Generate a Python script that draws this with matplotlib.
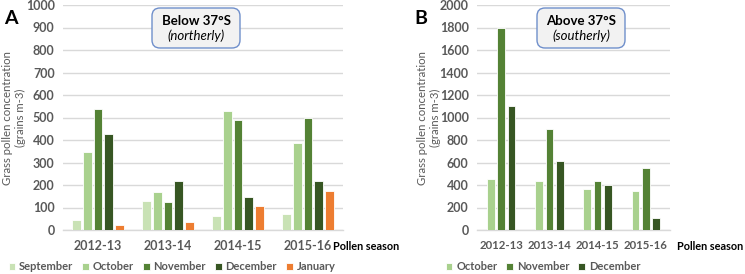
import matplotlib.pyplot as plt
import numpy as np
from matplotlib.patches import FancyBboxPatch
from matplotlib.transforms import IdentityTransform

plt.rcParams['font.family'] = ['Lato', 'DejaVu Sans']

seasons = ['2012-13', '2013-14', '2014-15', '2015-16']

# panel A: below 37°S
months_a = ['September', 'October', 'November', 'December', 'January']
north = {
    'September': [45, 130, 62, 72],
    'October': [345, 167, 530, 385],
    'November': [537, 125, 490, 498],
    'December': [425, 218, 147, 220],
    'January': [22, 35, 105, 175],
}

# panel B: above 37°S
months_b = ['October', 'November', 'December']
south = {
    'October': [450, 440, 362, 348],
    'November': [1800, 895, 432, 555],
    'December': [1100, 615, 398, 110],
}

colors = {
    'September': '#C9E2B5',
    'October': '#A9D18E',
    'November': '#548235',
    'December': '#375623',
    'January': '#ED7D31',
}

grey = '#595959'

fig = plt.figure(figsize=(7.45, 2.74), dpi=100)
W, H = 745, 274


def px_axes(x0, y0, x1, y1):
    return fig.add_axes([x0 / W, 1 - y1 / H, (x1 - x0) / W, (y1 - y0) / H])


def draw_panel(ax, months, data, step, width, ymax, ystep, xsize):
    x = np.arange(len(seasons))
    n = len(months)
    for i, m in enumerate(months):
        off = (i - (n - 1) / 2) * step
        ax.bar(x + off, data[m], width, color=colors[m], edgecolor='white',
               linewidth=0.6, label=m, zorder=3)
    ax.set_xlim(-0.5, len(seasons) - 0.5)
    ax.set_ylim(0, ymax)
    ax.set_yticks(np.arange(0, ymax + 1, ystep))
    ax.yaxis.grid(True, color='#D9D9D9', linewidth=1, zorder=0)
    for s in ['top', 'right', 'left']:
        ax.spines[s].set_visible(False)
    ax.spines['bottom'].set_color('#D9D9D9')
    ax.spines['bottom'].set_linewidth(1)
    ax.tick_params(length=0, colors=grey, labelsize=9)
    ax.set_xticks(x)
    ax.set_xticklabels(seasons, fontweight='bold', fontsize=xsize)
    for lab in ax.get_yticklabels():
        lab.set_fontweight('bold')
    ax.tick_params(axis='x', pad=7)
    ax.tick_params(axis='y', pad=6)


ax1 = px_axes(63, 5, 343, 230)
draw_panel(ax1, months_a, north, 0.153, 0.124, 1000, 100, 9)

ax2 = px_axes(477, 5, 670, 230)
draw_panel(ax2, months_b, south, 0.217, 0.16, 2000, 200, 8.2)

# y labels
for xc in (14, 429):
    fig.text(xc / W, 1 - 118 / H, 'Grass pollen concentration\n(grains m-3)',
             rotation=90, ha='center', va='center', fontsize=8.2, color=grey,
             linespacing=1.2, multialignment='center')

# Pollen season labels
for xs in (333, 677):
    fig.text(xs / W, 1 - 246 / H, 'Pollen season', fontsize=7.8, fontweight='bold',
             color='black', va='center', ha='left')

# panel letters
fig.text(4 / W, 1 - 18 / H, 'A', fontsize=14, fontweight='bold', va='center')
fig.text(414 / W, 1 - 18 / H, 'B', fontsize=14, fontweight='bold', va='center')

# region boxes (pixel coordinates)
for x0, t1, t2 in [(152, 'Below 37°S', '(northerly)'),
                   (537, 'Above 37°S', '(southerly)')]:
    patch = FancyBboxPatch((x0, H - 48), 88, 40,
                           boxstyle='round,pad=0,rounding_size=8',
                           facecolor='#F2F2F2', edgecolor='#6F8FCB',
                           linewidth=1, transform=IdentityTransform())
    fig.add_artist(patch)
    fig.text((x0 + 44) / W, 1 - 21 / H, t1, ha='center', va='center',
             fontsize=9.5, fontweight='bold', color='black')
    fig.text((x0 + 44) / W, 1 - 36 / H, t2, ha='center', va='center',
             fontsize=9.5, fontstyle='italic', color='black')

# legends
leg_kw = dict(loc='center', frameon=False, handlelength=0.6, handleheight=0.6,
              handletextpad=0.35, columnspacing=0.8, labelcolor=grey,
              borderpad=0, prop={'weight': 'bold', 'size': 8})
h1, l1 = ax1.get_legend_handles_labels()
fig.legend(h1, l1, bbox_to_anchor=(172 / W, 1 - 267 / H), ncol=5, **leg_kw)
h2, l2 = ax2.get_legend_handles_labels()
fig.legend(h2, l2, bbox_to_anchor=(543 / W, 1 - 267 / H), ncol=3, **leg_kw)

fig.savefig('out.png', dpi=100)
